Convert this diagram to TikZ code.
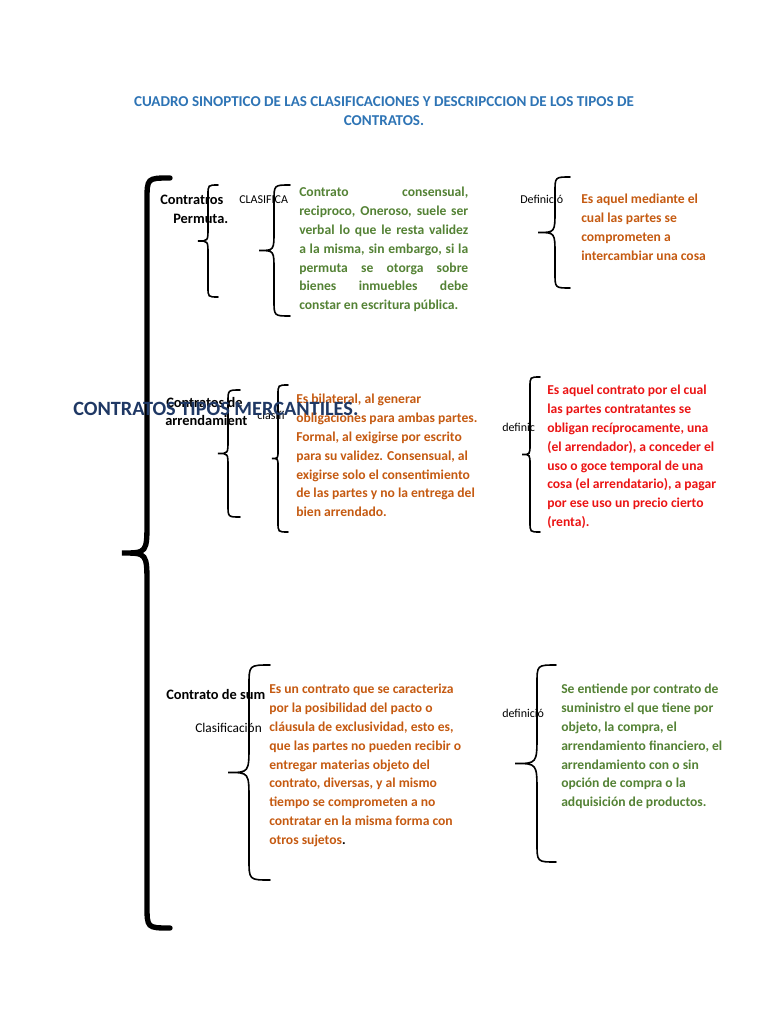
\documentclass[tikz,border=0pt]{standalone}
\usepackage{fontspec}
\setmainfont{Carlito}
\usepackage{xcolor}
\usepackage{tikz}
\usetikzlibrary{positioning, calc}
\definecolor{titblue}{RGB}{46,116,181}
\definecolor{navy}{RGB}{31,56,100}
\definecolor{leafgreen}{RGB}{84,130,53}
\definecolor{rust}{RGB}{197,90,17}
\definecolor{brightred}{RGB}{235,20,20}
\tikzset{
  title/.style ={inner sep=0pt, anchor=north, align=center, text=titblue,
                 font=\fontsize{11.3}{14.25}\selectfont\bfseries},
  lbl/.style   ={inner sep=0pt, anchor=base west, text=black,
                 font=\fontsize{10.8}{12}\selectfont\bfseries},
  tag/.style   ={inner sep=0pt, anchor=base west, text=black,
                 font=\fontsize{9}{11}\selectfont},
  para/.style  ={inner sep=0pt, anchor=north west, align=left,
                 font=\fontsize{10.2}{14.1}\selectfont\bfseries},
  brc/.style   ={draw=black, line width=1.2pt, line cap=round},
  bigbrc/.style={draw=black, line width=4pt, line cap=round}
}
% brace: [style]{x of stem}{top}{bottom}{x of tip}{x of ends}
\newcommand{\cbrace}[6][brc]{%
  \pgfmathsetmacro{\bym}{(#3+#4)/2}%
  \pgfmathsetmacro{\brr}{#6-#2}%
  \pgfmathsetmacro{\bdy}{1.3*(#2-#5)}%
  \draw[#1] (#6,#3) .. controls (#2,#3) .. (#2,#3+\brr)
    -- (#2,\bym-\bdy) .. controls (#2,\bym) .. (#5,\bym)
    .. controls (#2,\bym) .. (#2,\bym+\bdy)
    -- (#2,#4-\brr) .. controls (#2,#4) .. (#6,#4);
}
\newlength{\jw}
\setlength{\jw}{126.75pt}
\newcommand{\jline}[1]{\makebox[\jw][s]{#1}}

\begin{document}
\begin{tikzpicture}[x=0.75pt, y=-0.75pt]
\useasboundingbox (0,0) rectangle (768,1024);
\node[title] (titulo) at (384,96)
  {CUADRO SINOPTICO DE LAS CLASIFICACIONES Y DESCRIPCCION DE LOS TIPOS DE\\CONTRATOS.};

% braces
\cbrace[bigbrc]{147}{178}{928}{122}{170}
\cbrace{208}{185}{297}{198}{218}
\cbrace{274}{185}{316}{259}{290}
\cbrace{555}{177}{288}{538}{570}
\cbrace{228}{390}{517}{218}{240}
\cbrace{278}{385}{532}{272}{288}
\cbrace{530}{377}{532}{522}{540}
\cbrace{249}{665}{880}{228}{270}
\cbrace{537}{665}{862}{515}{556}

% permuta
\node[lbl] (permuta) at (160,204) {Contratros};
\node[lbl] (permuta2) at (173,223) {Permuta.};
\node[tag] (clasif1) at (239,203) {CLASIFICA};
\node[para, text=leafgreen] (carac1) at (299,187)
  {\jline{Contrato consensual,}\\
   \jline{reciproco, Oneroso, suele ser}\\
   \jline{verbal lo que le resta validez}\\
   \jline{a la misma, sin embargo, si la}\\
   \jline{permuta se otorga sobre}\\
   \jline{bienes inmuebles debe}\\
   constar en escritura pública.};
\node[tag] (defin1) at (520,203) {Definició};
\node[para, text=rust] (def1) at (581,194)
  {Es aquel mediante el\\cual las partes se\\comprometen a\\intercambiar una cosa};

% arrendamiento
\node[lbl] (arrend) at (166,407) {Contratos de};
\node[lbl] (arrend2) at (165,425) {arrendamient};
\node[tag] (clasif2) at (257,419) {clasifi};
\node[para, text=rust] (carac2) at (296,394)
  {Es bilateral, al generar\\
   obligaciones para ambas partes.\\
   Formal, al exigirse por escrito\\
   para su validez. Consensual, al\\
   exigirse solo el consentimiento\\
   de las partes y no la entrega del\\
   bien arrendado.};
\node[tag] (defin2) at (502,431) {definic};
\node[para, text=brightred] (def2) at (547,385)
  {Es aquel contrato por el cual\\
   las partes contratantes se\\
   obligan recíprocamente, una\\
   (el arrendador), a conceder el\\
   uso o goce temporal de una\\
   cosa (el arrendatario), a pagar\\
   por ese uso un precio cierto\\
   (renta).};

% suministro
\node[lbl] (sumin) at (166,699) {Contrato de sum};
\node[tag, font=\fontsize{10}{11}\selectfont] (clasif3) at (195,732) {Clasificación};
\node[para, text=rust] (carac3) at (269,684)
  {Es un contrato que se caracteriza\\
   por la posibilidad del pacto o\\
   cláusula de exclusividad, esto es,\\
   que las partes no pueden recibir o\\
   entregar materias objeto del\\
   contrato, diversas, y al mismo\\
   tiempo se comprometen a no\\
   contratar en la misma forma con\\
   otros sujetos\textcolor{black}{.}};
\node[tag] (defin3) at (502,717) {definició};
\node[para, text=leafgreen] (def3) at (561,684)
  {Se entiende por contrato de\\
   suministro el que tiene por\\
   objeto, la compra, el\\
   arrendamiento financiero, el\\
   arrendamiento con o sin\\
   opción de compra o la\\
   adquisición de productos.};

\node[inner sep=0pt, anchor=base west, text=navy,
      font=\fontsize{15.2}{17}\selectfont\bfseries] (mercantiles) at (73,415)
  {CONTRATOS TIPOS MERCANTILES.};
\end{tikzpicture}
\end{document}
